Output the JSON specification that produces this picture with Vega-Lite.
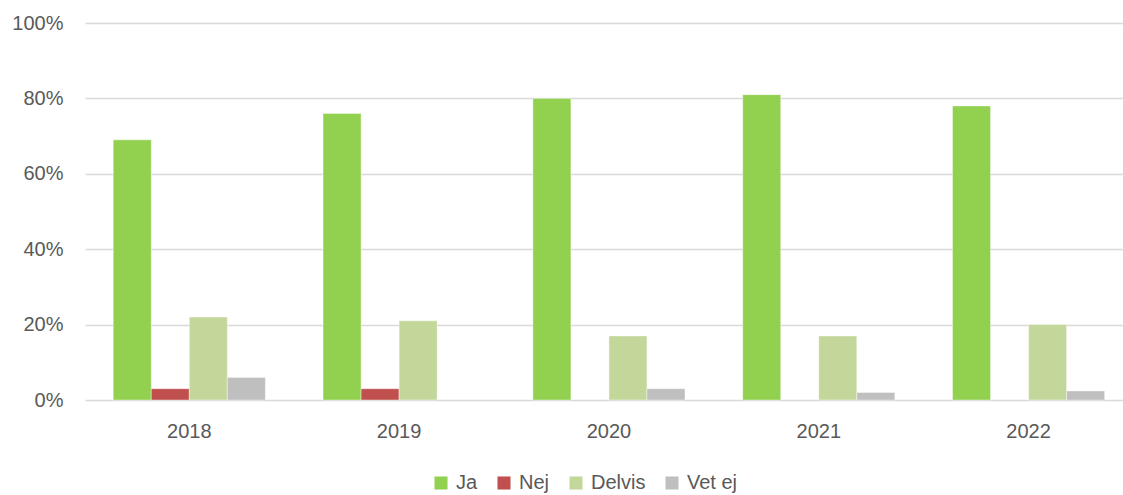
{
  "$schema": "https://vega.github.io/schema/vega-lite/v6.json",
  "width": 1038,
  "height": 377,
  "autosize": {"type": "none"},
  "padding": {"left": 85, "top": 23, "right": 0, "bottom": 95},
  "background": "white",
  "config": {
    "font": "Liberation Sans",
    "view": {"stroke": null}
  },
  "data": {
    "values": [
      {"year": "2018", "answer": "Ja", "value": 0.69},
      {"year": "2018", "answer": "Nej", "value": 0.03},
      {"year": "2018", "answer": "Delvis", "value": 0.22},
      {"year": "2018", "answer": "Vet ej", "value": 0.06},
      {"year": "2019", "answer": "Ja", "value": 0.76},
      {"year": "2019", "answer": "Nej", "value": 0.03},
      {"year": "2019", "answer": "Delvis", "value": 0.21},
      {"year": "2020", "answer": "Ja", "value": 0.80},
      {"year": "2020", "answer": "Delvis", "value": 0.17},
      {"year": "2020", "answer": "Vet ej", "value": 0.03},
      {"year": "2021", "answer": "Ja", "value": 0.81},
      {"year": "2021", "answer": "Delvis", "value": 0.17},
      {"year": "2021", "answer": "Vet ej", "value": 0.02},
      {"year": "2022", "answer": "Ja", "value": 0.78},
      {"year": "2022", "answer": "Delvis", "value": 0.20},
      {"year": "2022", "answer": "Vet ej", "value": 0.024}
    ]
  },
  "mark": {"type": "bar", "stroke": "white", "strokeOpacity": 0.5, "strokeWidth": 0.8},
  "encoding": {
    "x": {
      "field": "year",
      "type": "nominal",
      "scale": {"paddingInner": 0.275, "paddingOuter": 0.111, "align": 0.606},
      "axis": {
        "title": null,
        "labelAngle": 0,
        "labelFontSize": 20,
        "labelColor": "#595959",
        "labelPadding": 21,
        "ticks": false,
        "domain": false,
        "grid": false
      }
    },
    "xOffset": {
      "field": "answer",
      "type": "nominal",
      "sort": ["Ja", "Nej", "Delvis", "Vet ej"],
      "scale": {"domain": ["Ja", "Nej", "Delvis", "Vet ej"], "paddingInner": 0, "paddingOuter": 0}
    },
    "y": {
      "field": "value",
      "type": "quantitative",
      "scale": {"domain": [0, 1], "nice": false},
      "axis": {
        "title": null,
        "format": ".0%",
        "values": [0, 0.2, 0.4, 0.6, 0.8, 1],
        "labelFontSize": 20,
        "labelColor": "#595959",
        "labelPadding": 22,
        "ticks": false,
        "domain": false,
        "grid": true,
        "gridColor": "#d9d9d9",
        "gridWidth": 1.5
      }
    },
    "color": {
      "field": "answer",
      "type": "nominal",
      "sort": ["Ja", "Nej", "Delvis", "Vet ej"],
      "scale": {
        "domain": ["Ja", "Nej", "Delvis", "Vet ej"],
        "range": ["#92d050", "#c0504d", "#c4d79b", "#bfbfbf"]
      },
      "legend": {
        "title": null,
        "orient": "none",
        "direction": "horizontal",
        "legendX": 346,
        "legendY": 450,
        "symbolType": "square",
        "symbolSize": 170,
        "symbolStrokeWidth": 0,
        "labelFontSize": 20,
        "labelColor": "#595959",
        "labelOffset": 5,
        "columnPadding": 16
      }
    }
  }
}
